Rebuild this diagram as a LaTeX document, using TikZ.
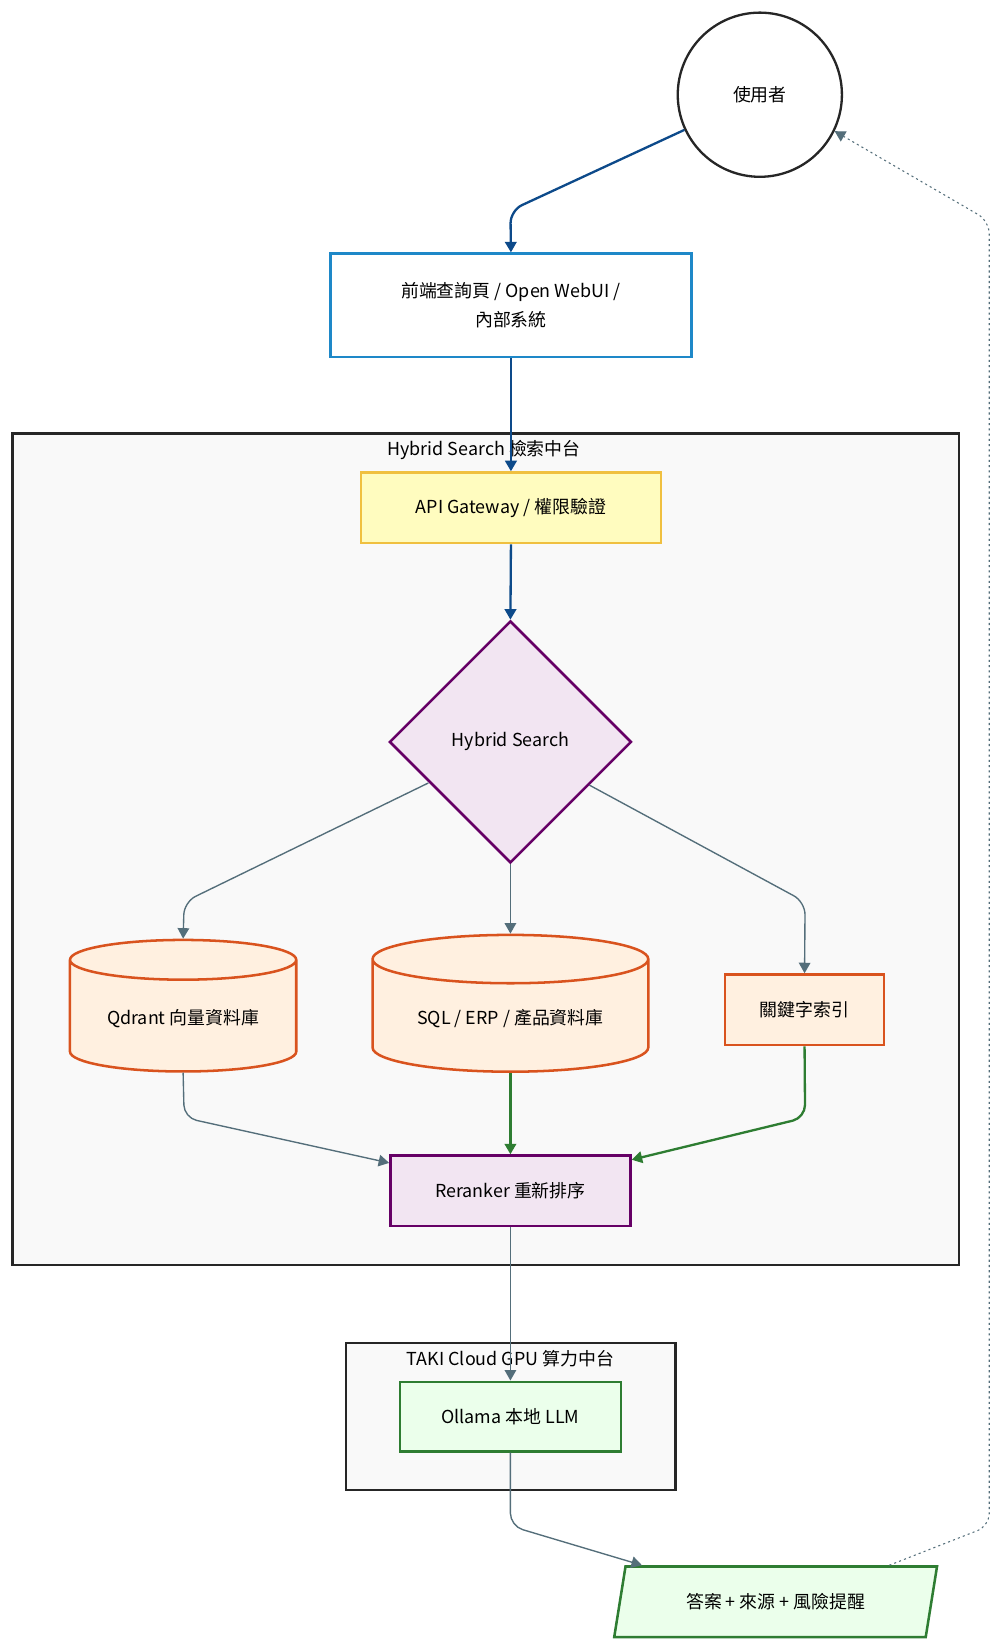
\documentclass[tikz,border=0pt]{standalone}
\usepackage{fontspec}
\setmainfont{Noto Sans CJK TC}
\usetikzlibrary{positioning, calc, shapes.geometric, arrows.meta}

\definecolor{edgeblue}{HTML}{0D4A8A}
\definecolor{edgegray}{HTML}{546E7A}
\definecolor{edgegreen}{HTML}{2E7D32}
\definecolor{dborange}{HTML}{D9531E}
\definecolor{frontblue}{HTML}{1E88C8}
\definecolor{gwyellow}{HTML}{F0C040}

\begin{document}
\begin{tikzpicture}[x=1pt, y=-1pt, font=\fontsize{17}{28}\selectfont,
    box/.style={draw, line width=2.4pt, align=center, inner sep=0pt},
    cluster/.style={draw=black!85, line width=2.2pt, fill=gray!5},
    link/.style={draw=edgegray, line width=1.3pt, -{Triangle[length=10pt,width=11pt]}, rounded corners=12pt},
    bluelink/.style={link, draw=edgeblue, line width=2.2pt},
    greenlink/.style={link, draw=edgegreen, line width=2.2pt}]
  \useasboundingbox (0,0) rectangle (950,1565);

  % clusters
  \draw[cluster] (12,412) rectangle (911,1202);
  \node (hybridtitle) at (460,428) {Hybrid Search 檢索中台};
  \draw[cluster] (329,1276) rectangle (642,1416);
  \node (takititle) at (485,1291) {TAKI Cloud GPU 算力中台};

  % nodes
  \node[circle, draw=black!85, line width=2.2pt, fill=white, minimum size=156pt] (user) at (722,90) {使用者};
  \node[box, draw=frontblue, fill=white, minimum width=343pt, minimum height=98pt] (front) at (485.5,290) {前端查詢頁 / Open WebUI /\\內部系統};
  \node[box, draw=gwyellow, fill=yellow!25, minimum width=285pt, minimum height=67pt] (api) at (485.5,482.5) {API Gateway / 權限驗證};
  \node[diamond, draw=violet!80!black, line width=2.4pt, fill=violet!10, minimum width=230pt, minimum height=230pt, inner sep=0pt] (hybrid) at (485,705) {Hybrid Search};
  \node[cylinder, shape border rotate=90, aspect=0.25, draw=dborange, line width=2.4pt, fill=orange!12, minimum width=215pt, minimum height=125pt] (qdrant) at (174,968) {Qdrant 向量資料庫};
  \node[cylinder, shape border rotate=90, aspect=0.25, draw=dborange, line width=2.4pt, fill=orange!12, minimum width=262pt, minimum height=130pt] (sql) at (485,968) {SQL / ERP / 產品資料庫};
  \node[box, draw=dborange, fill=orange!12, minimum width=151pt, minimum height=67pt] (keyword) at (764.5,959.5) {關鍵字索引};
  \node[box, draw=violet!80!black, fill=violet!10, minimum width=228pt, minimum height=67pt] (rerank) at (485,1131.5) {Reranker 重新排序};
  \node[box, draw=edgegreen, fill=green!8, minimum width=210pt, minimum height=66pt] (ollama) at (485,1346) {Ollama 本地 LLM};
  \node[trapezium, trapezium left angle=68, trapezium right angle=112, trapezium stretches=true, draw=edgegreen, line width=2.4pt, fill=green!8, minimum width=307pt, minimum height=67pt, inner sep=0pt] (answer) at (737,1522) {答案 + 來源 + 風險提醒};

  % connectors
  \draw[bluelink] (user.205) -- (485,200) -- (front.north);
  \draw[bluelink] (front.south) -- (api.north);
  \draw[bluelink] (api.south) -- (hybrid.north);
  \draw[link] (407,744) -- (175,857) -- (qdrant.north);
  \draw[link] (hybrid.south) -- (sql.north);
  \draw[link] (560,746) -- (765,857) -- (keyword.north);
  \draw[link] (qdrant.south) -- (175,1062) -- (rerank.west |- 0,1105);
  \draw[greenlink] (sql.south) -- (rerank.north);
  \draw[greenlink] (keyword.south) -- (765,1062) -- (rerank.east |- 0,1102);
  \draw[link] (rerank.south) -- (ollama.north);
  \draw[link] (ollama.south) -- (485,1450) -- (answer.top left corner -| 610,0);
  \draw[link, line width=1pt, dash pattern=on 2pt off 3pt] (answer.top right corner -| 845,0) -- (940,1450) -- (940,210) -- (user.-26);
\end{tikzpicture}
\end{document}
